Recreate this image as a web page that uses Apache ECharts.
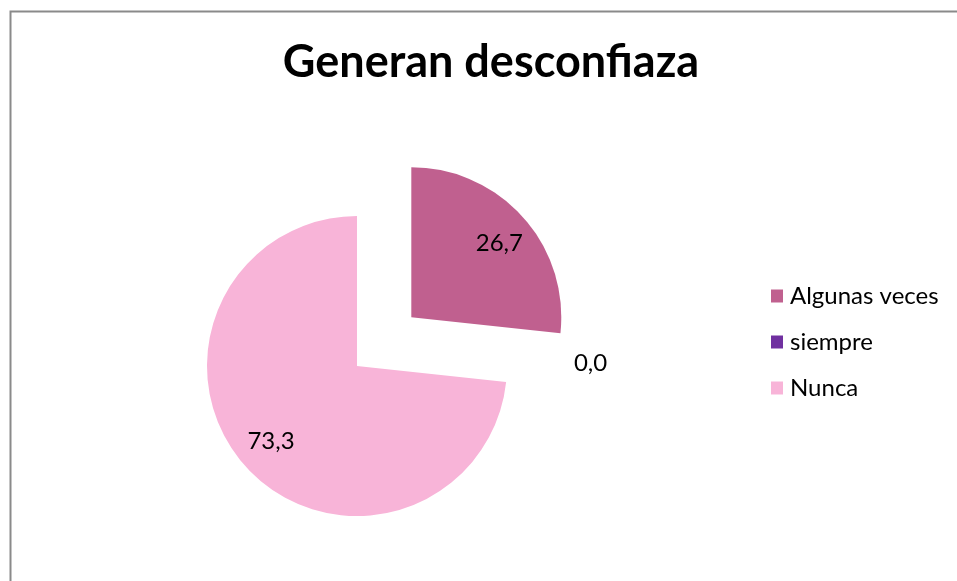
<!DOCTYPE html>
<html><head><meta charset="utf-8">
<script src="https://cdn.jsdelivr.net/npm/echarts@6/dist/echarts.min.js"></script>
<style>html,body{margin:0;padding:0;background:#fff}#c{width:957px;height:581px}</style>
</head><body><div id="c"></div>
<script>
const titleText = 'Generan desconfiaza';
const categories = ['Algunas veces', 'siempre', 'Nunca'];
const values = [26.7, 0.0, 73.3];
const colors = ['#C0608F', '#7030A0', '#F8B4D8'];
const labelOffsets = [[30, -22], [156, -11], [-28, 23]];

const chart = echarts.init(document.getElementById('c'), null, {renderer: 'canvas'});
const font = 'Lato, "Open Sans", sans-serif';
chart.setOption({
  animation: false,
  title: {text: titleText, left: 486, top: 35, textAlign: 'center',
    textStyle: {fontFamily: font, fontWeight: 'bold', fontSize: 45, color: '#000'}},
  graphic: [{type: 'rect', shape: {x: 10.5, y: 11.5, width: 1200, height: 1200},
    style: {fill: 'none', stroke: '#8a8a8a', lineWidth: 2}, silent: true}],
  legend: {orient: 'vertical', left: 766, top: 279, itemWidth: 12, itemHeight: 13, itemGap: 22,
    icon: 'rect', selectedMode: false,
    textStyle: {fontFamily: font, fontSize: 24, color: '#000', padding: [0, 0, 0, 2]},
    data: categories},
  series: [{
    type: 'pie', center: [357, 366], radius: 150, startAngle: 90, clockwise: true,
    selectedMode: 'multiple', selectedOffset: 73, avoidLabelOverlap: false,
    label: {show: true, position: 'inside', fontFamily: font, fontSize: 24, color: '#000',
      formatter: p => p.value.toFixed(1).replace('.', ',')},
    labelLine: {show: false},
    emphasis: {disabled: true},
    data: categories.map((n, i) => ({name: n, value: values[i], selected: i === 0,
      itemStyle: {color: colors[i]},
      label: {offset: labelOffsets[i]},
      select: {label: {offset: labelOffsets[i]}}}))
  }]
});
</script></body></html>
